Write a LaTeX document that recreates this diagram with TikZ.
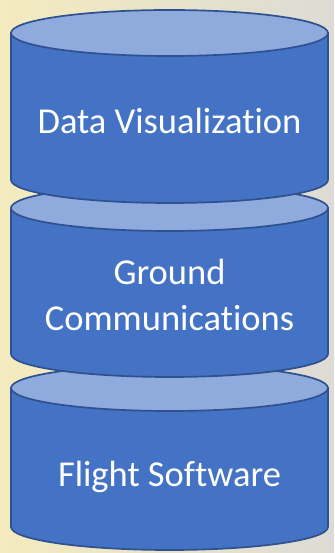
\documentclass[tikz,border=0pt]{standalone}
\usepackage{fontspec}
\setmainfont{Carlito}[Ligatures=NoCommon]
\usepackage{xcolor}
\usetikzlibrary{positioning}

\definecolor{cylblue}{HTML}{4472C4}
\definecolor{caplight}{HTML}{8FAADC}
\definecolor{cyledge}{HTML}{2F528F}
\definecolor{bgwarm}{HTML}{F4EBBE}
\definecolor{bgcool}{HTML}{DDDBD6}

\begin{document}
\begin{tikzpicture}[
    x=1pt, y=1pt,
    body/.style={fill=cylblue, draw=cyledge, line width=1.7pt},
    lid/.style={fill=caplight, draw=cyledge, line width=1.7pt},
    layertext/.style={text=white, font=\fontsize{36.5}{46}\selectfont, align=center}
]
    % background
    \shade[left color=bgwarm, right color=bgcool] (0,0) rectangle (334,553);
    \useasboundingbox (0,0) rectangle (334,553);

    % bottom layer first, so each upper one sits over the lid below it
    \path[body] (11,165) -- (11,26) arc[start angle=180, end angle=360, x radius=158.5, y radius=23]
        -- (328,165) -- cycle;
    \path[lid] (169.5,165) ellipse[x radius=158.5, y radius=23];
    \node[layertext] (flightsw) at (169.5,76) {Flight Software};

    \path[body] (11,345) -- (11,199) arc[start angle=180, end angle=360, x radius=158.5, y radius=23]
        -- (328,345) -- cycle;
    \path[lid] (169.5,345) ellipse[x radius=158.5, y radius=23];
    \node[layertext] (groundcomm) at (169.5,258) {Ground\\Communications};

    \path[body] (11,520) -- (11,373) arc[start angle=180, end angle=360, x radius=158.5, y radius=23]
        -- (328,520) -- cycle;
    \path[lid] (169.5,520) ellipse[x radius=158.5, y radius=23];
    \node[layertext] (dataviz) at (169.5,432) {Data Visualization};
\end{tikzpicture}
\end{document}
